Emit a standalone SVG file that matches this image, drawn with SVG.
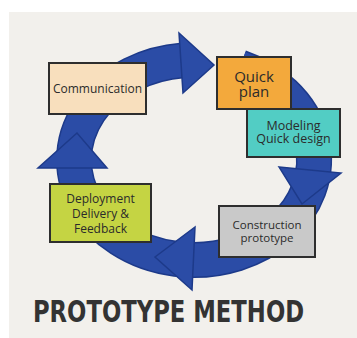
<svg xmlns="http://www.w3.org/2000/svg" width="357" height="338" viewBox="0 0 357 338">
<defs>
<style>
.box{stroke:#2e2e2e;stroke-width:2}
.lbl{font-family:"Open Sans","Noto Sans","DejaVu Sans",sans-serif;font-weight:500;fill:#2b2b2b;text-anchor:middle}
.ring-o{fill:none;stroke:#1d3a8a;stroke-width:36}
.ring-i{fill:none;stroke:#2b4ca6;stroke-width:33}
.head{fill:#2b4ca6;stroke:#1d3a8a;stroke-width:1.5;stroke-linejoin:miter}
</style>
</defs>
<rect x="0" y="0" width="357" height="338" fill="#ffffff"/>
<rect x="9" y="12" width="348" height="326" fill="#f2f0ec"/>
<g id="connectors">
<path class="ring-o" d="M183,60.4 A120,100 0 1 0 240,67.6"/>
<path class="ring-i" d="M183,60.4 A120,100 0 1 0 240,67.6"/>
<polygon class="head" points="179,33 214,65 183,93"/>
<polygon class="head" points="279,167 341,173 302,204"/>
<polygon class="head" points="195,227 155,257 192,290"/>
<polygon class="head" points="77,133 38,168 107,168"/>
</g>
<g id="communication">
<rect class="box" x="49" y="63" width="97" height="51" fill="#f8dfbd"/>
<text class="lbl" x="97.5" y="93" font-size="12">Communication</text>
</g>
<g id="quick-plan">
<rect class="box" x="217" y="57" width="74" height="52" fill="#f3a93c"/>
<text class="lbl" x="254" y="82" font-size="15">Quick</text>
<text class="lbl" x="254" y="97" font-size="15">plan</text>
</g>
<g id="modeling">
<rect class="box" x="247" y="109" width="93" height="48" fill="#52cdc4"/>
<text class="lbl" x="293.5" y="129.5" font-size="12.5">Modeling</text>
<text class="lbl" x="293.5" y="143" font-size="12.5">Quick design</text>
</g>
<g id="construction">
<rect class="box" x="219" y="206" width="96" height="51" fill="#c9c9c9"/>
<text class="lbl" x="267" y="229" font-size="11.5">Construction</text>
<text class="lbl" x="267" y="242" font-size="11.5">prototype</text>
</g>
<g id="deployment">
<rect class="box" x="50" y="184" width="101" height="58" fill="#c5d443"/>
<text class="lbl" x="100.5" y="203" font-size="12">Deployment</text>
<text class="lbl" x="100.5" y="218" font-size="12">Delivery &amp;</text>
<text class="lbl" x="100.5" y="233" font-size="12">Feedback</text>
</g>
<g id="title">
<text transform="translate(168.5,322) scale(0.815,1)" x="0" y="0" font-family="'DejaVu Sans Condensed','DejaVu Sans',sans-serif" font-weight="bold" font-size="31" fill="#333333" text-anchor="middle">PROTOTYPE METHOD</text>
</g>
</svg>
